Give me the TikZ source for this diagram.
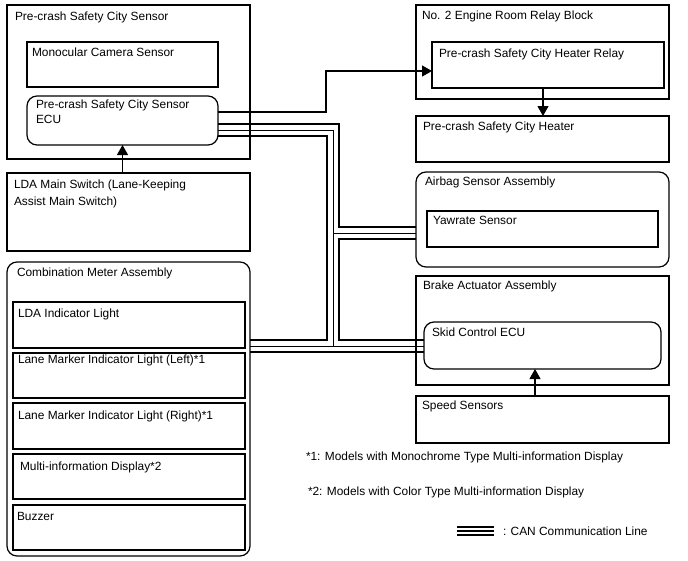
\documentclass[tikz,border=0pt]{standalone}
\usepackage{fontspec}
\setmainfont{Liberation Sans}
\usetikzlibrary{arrows.meta,backgrounds}
\tikzset{
  box/.style={draw, rectangle, line width=1.2pt, inner sep=0pt, outer sep=0pt},
  rbox/.style={box, rounded corners=10pt},
  lbl/.style={anchor=base west, inner sep=0pt, outer sep=0pt, font=\fontsize{11.9}{14}\selectfont},
  arr/.style={line width=1.1pt, -{Triangle[length=10pt,width=11pt]}},
  canblack/.style={line width=14pt, line cap=butt, line join=miter, draw=black},
  canwhite/.style={line width=10pt, line cap=butt, line join=miter, draw=white},
  cancore/.style={line width=0.9pt, line cap=butt, line join=miter, draw=black},
  legthick/.style={line width=1.8pt},
  legthin/.style={line width=1.2pt},
}
\begin{document}
\begin{tikzpicture}[x=1pt,y=-1pt]
\useasboundingbox (0,0) rectangle (688,560);

% left column
\node[box, minimum width=243pt, minimum height=154pt] (pcs) at (128.5,82) {};
\node[box, minimum width=191pt, minimum height=45pt] (cam) at (122.5,64.5) {};
\node[rbox, minimum width=191pt, minimum height=49pt] (ecu) at (122.5,120.5) {};
\node[box, minimum width=243pt, minimum height=78pt] (lda) at (128.5,212) {};

\node[rbox, minimum width=243pt, minimum height=294pt] (meter) at (128.5,409) {};
\node[box, minimum width=232pt, minimum height=46pt] (ldaind) at (129,325) {};
\node[box, minimum width=232pt, minimum height=45pt] (lml) at (129,375.5) {};
\node[box, minimum width=232pt, minimum height=46pt] (lmr) at (129,426) {};
\node[box, minimum width=232pt, minimum height=45pt] (mid) at (129,476.5) {};
\node[box, minimum width=232pt, minimum height=45pt] (buzz) at (129,527.5) {};

% right column
\node[box, minimum width=253pt, minimum height=94pt] (relayblk) at (542.5,52) {};
\node[box, minimum width=232pt, minimum height=46pt] (relay) at (548,65) {};
\node[box, minimum width=253pt, minimum height=46pt] (heater) at (542.5,139) {};
\node[rbox, minimum width=253pt, minimum height=95pt] (airbag) at (542.5,219.5) {};
\node[box, minimum width=231pt, minimum height=36pt] (yaw) at (542.5,229) {};
\node[box, minimum width=253pt, minimum height=109pt] (brake) at (542.5,330.5) {};
\node[rbox, minimum width=237pt, minimum height=47pt] (skid) at (542.5,345.5) {};
\node[box, minimum width=253pt, minimum height=47pt] (speed) at (542.5,419.5) {};

% labels
\node[lbl] (t-pcs) at (15,20.5) {Pre-crash Safety City Sensor};
\node[lbl] (t-cam) at (32,56) {Monocular Camera Sensor};
\node[lbl] (t-ecu1) at (36,108) {Pre-crash Safety City Sensor};
\node[lbl] (t-ecu2) at (36,123.5) {ECU};
\node[lbl] (t-lda1) at (14,188.5) {LDA Main Switch (Lane-Keeping};
\node[lbl] (t-lda2) at (14,205) {Assist Main Switch)};
\node[lbl] (t-meter) at (17,276) {Combination Meter Assembly};
\node[lbl] (t-ldaind) at (18,317) {LDA Indicator Light};
\node[lbl] (t-lml) at (18,363) {Lane Marker Indicator Light (Left)*1};
\node[lbl] (t-lmr) at (18,419) {Lane Marker Indicator Light (Right)*1};
\node[lbl] (t-mid) at (20,470) {Multi-information Display*2};
\node[lbl] (t-buzz) at (17,520) {Buzzer};

\node[lbl] (t-relayblk) at (422,19.5) {No. 2 Engine Room Relay Block};
\node[lbl] (t-relay) at (439,57) {Pre-crash Safety City Heater Relay};
\node[lbl] (t-heater) at (423,130) {Pre-crash Safety City Heater};
\node[lbl] (t-airbag) at (425,185) {Airbag Sensor Assembly};
\node[lbl] (t-yaw) at (433,224) {Yawrate Sensor};
\node[lbl] (t-brake) at (423,289) {Brake Actuator Assembly};
\node[lbl] (t-skid) at (432,336) {Skid Control ECU};
\node[lbl] (t-speed) at (422,409.5) {Speed Sensors};

\node[lbl] (note1) at (306,460) {*1: Models with Monochrome Type Multi-information Display};
\node[lbl] (note2) at (308,495) {*2: Models with Color Type Multi-information Display};
\node[lbl] (legtxt) at (503,535) {: CAN Communication Line};

% arrows
\draw[arr] (ecu.south |- lda.north) -- (ecu.south);
\draw[arr] ([xshift=-5pt]relay.south) -- ([xshift=-5pt]relay.south |- heater.north);
\draw[arr] ([xshift=-7.5pt]skid.south |- speed.north) -- ([xshift=-7.5pt]skid.south);
\coordinate (eOut) at ([yshift=8.5pt]ecu.east);
\coordinate (rIn) at ([yshift=-6pt]relay.west);
\draw[arr] (eOut) -- ++(108,0) |- (rIn);

% CAN bus
\coordinate (cA) at ([yshift=-9.5pt]ecu.east);
\coordinate (cB) at (333,130);
\coordinate (cC) at (333,346);
\coordinate (cJ) at (333,233);
\coordinate (cAir) at (airbag.west |- cJ);
\coordinate (cMet) at (meter.east |- cC);
\coordinate (cSkid) at (skid.west |- cC);
\begin{scope}[on background layer]
\foreach \st in {canblack,canwhite,cancore}{
  \draw[style=\st] (cA) -- (cB) -- (cC);
  \draw[style=\st] (cJ) -- (cAir);
  \draw[style=\st] (cMet) -- (cSkid);
}
\end{scope}

% legend
\coordinate (lgA) at (457,527);
\coordinate (lgB) at (494,527);
\coordinate (lgC) at (457,531);
\coordinate (lgD) at (494,531);
\coordinate (lgE) at (457,535);
\coordinate (lgF) at (494,535);
\draw[legthick] (lgA) -- (lgB);
\draw[legthin] (lgC) -- (lgD);
\draw[legthick] (lgE) -- (lgF);
\end{tikzpicture}
\end{document}
